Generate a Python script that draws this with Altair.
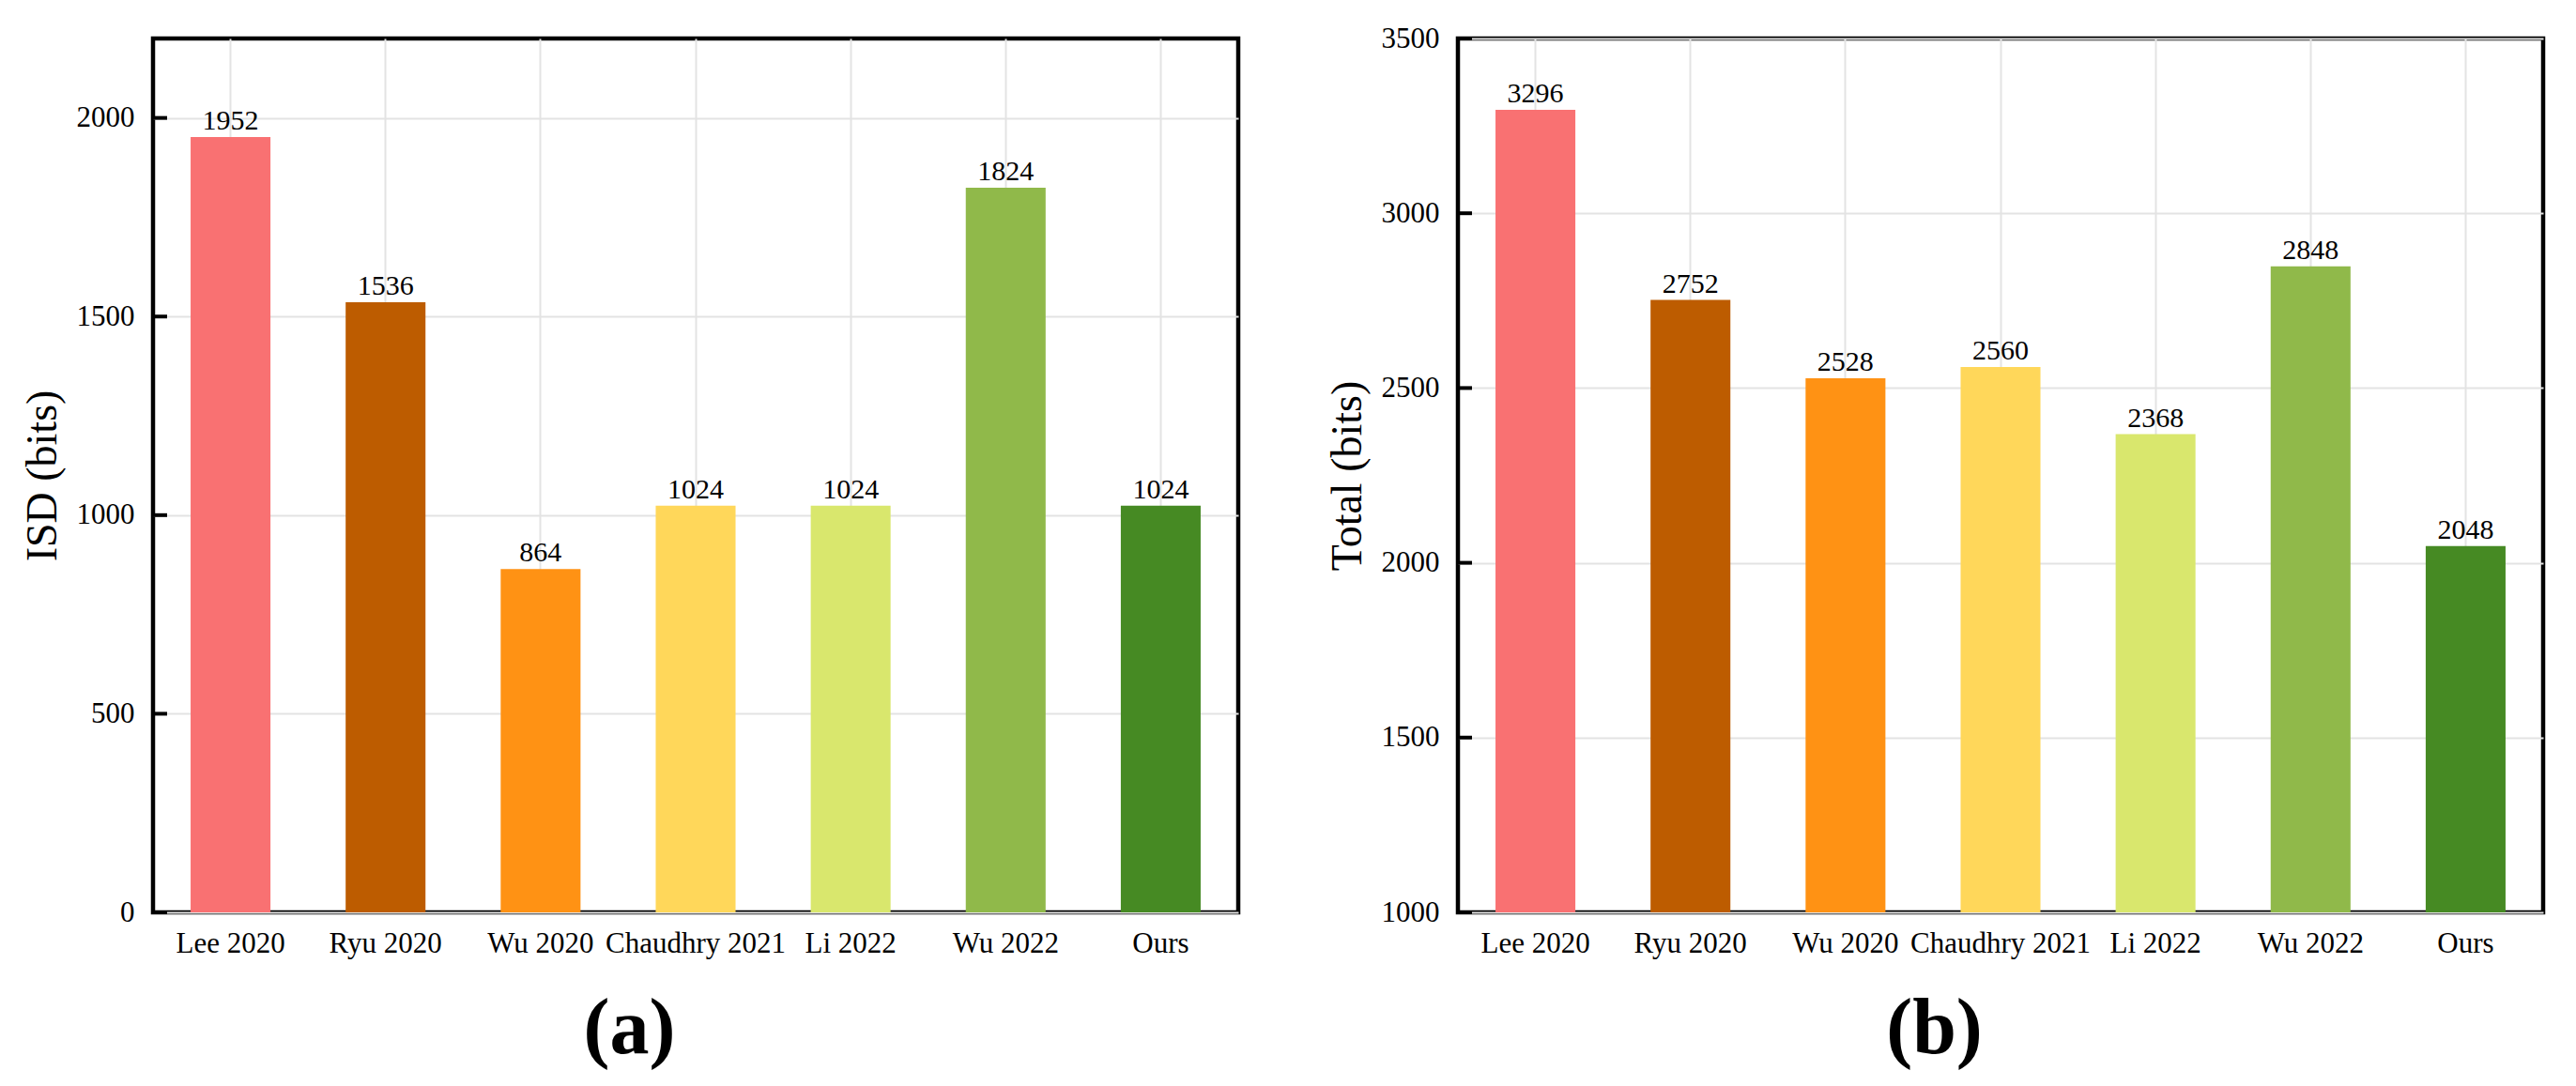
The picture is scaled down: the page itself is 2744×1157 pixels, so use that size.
import altair as alt
import pandas as pd

# values
methods = ["Lee 2020", "Ryu 2020", "Wu 2020", "Chaudhry 2021", "Li 2022", "Wu 2022", "Ours"]
isd_bits = [1952, 1536, 864, 1024, 1024, 1824, 1024]
total_bits = [3296, 2752, 2528, 2560, 2368, 2848, 2048]
bar_colors = ["#f97172", "#bd5c00", "#ff9214", "#ffd75a", "#d9e76d", "#90b94a", "#468a23"]

isd_ticks = [0, 500, 1000, 1500, 2000]
total_ticks = [1000, 1500, 2000, 2500, 3000, 3500]

FONT = "Liberation Serif"


def make_panel(values, ticks, domain, y_title, label):
    df = pd.DataFrame({"method": methods, "bits": values})
    tick_df = pd.DataFrame({"tick": ticks})

    x_enc = alt.X("method:N", sort=methods, title=None,
                  scale=alt.Scale(paddingInner=0.485, paddingOuter=0.2425),
                  axis=alt.Axis(labelAngle=0, labelPadding=18, tickSize=0, labelLimit=0,
                                domain=False, grid=True))
    y_scale = alt.Scale(domain=domain, zero=False, nice=False)
    y_axis = alt.Axis(values=ticks, format="d", labelPadding=20, tickSize=0,
                      domain=False, grid=True, titlePadding=12)

    bars = alt.Chart(df).mark_bar().encode(
        x=x_enc,
        y=alt.Y("bits:Q", scale=y_scale, title=y_title, axis=y_axis),
        y2=alt.datum(domain[0]),
        color=alt.Color("method:N", scale=alt.Scale(domain=methods, range=bar_colors), legend=None),
    )

    text = alt.Chart(df).mark_text(baseline="alphabetic", dy=-8, fontSize=30,
                                   font=FONT, color="black").encode(
        x=x_enc,
        y=alt.Y("bits:Q", scale=y_scale, title=y_title, axis=y_axis),
        text=alt.Text("bits:Q", format="d"),
    )

    # inward ticks on the left edge
    ticks_in = alt.Chart(tick_df).mark_rule(color="black", strokeWidth=4).encode(
        x=alt.value(0),
        x2=alt.value(15),
        y=alt.Y("tick:Q", scale=y_scale, title=y_title, axis=y_axis),
    )

    return alt.layer(bars, text, ticks_in).properties(
        width=1156,
        height=931,
        title=alt.TitleParams(label, orient="bottom", anchor="middle", frame="bounds",
                              fontSize=84, fontWeight="bold", font=FONT,
                              color="black", offset=36),
    )


left = make_panel(isd_bits, isd_ticks, [0, 2200], "ISD (bits)", "(a)")
right = make_panel(total_bits, total_ticks, [1000, 3500], "Total (bits)", "(b)")

chart = alt.hconcat(left, right, spacing=87).properties(
    padding={"left": 11, "top": 14, "right": 5, "bottom": 5}
).configure_view(
    stroke="black", strokeWidth=4.5
).configure_axis(
    labelFont=FONT, labelFontSize=31, labelColor="black",
    titleFont=FONT, titleFontSize=46, titleFontWeight="normal", titleColor="black",
    gridColor="#e3e3e3", gridWidth=2,
)

chart.save("out.html", embed_options={"renderer": "svg", "actions": False})
